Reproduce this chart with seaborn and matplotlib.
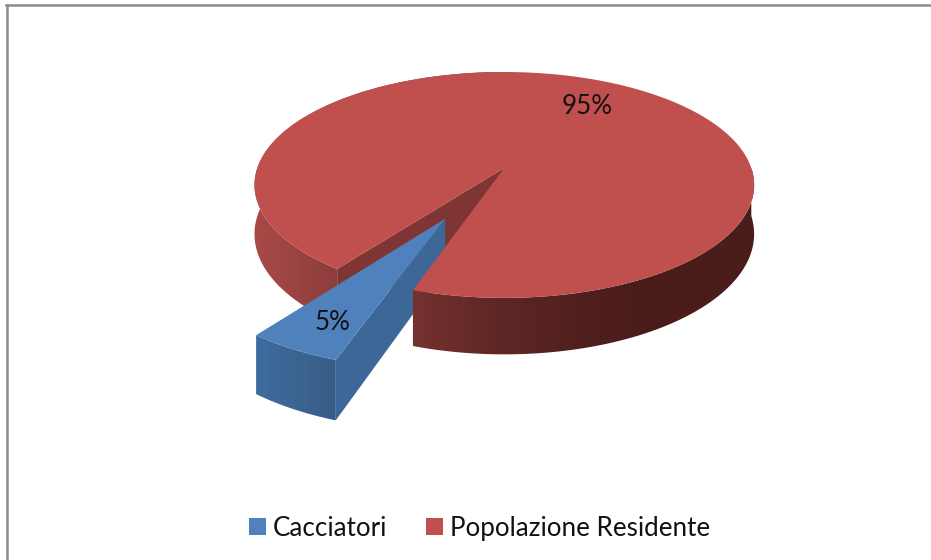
#!/usr/bin/env python3
"""Exploded 3D-look pie of hunters vs resident population."""

import numpy as np
import seaborn as sns
from matplotlib import pyplot as plt
from matplotlib.patches import Patch, Polygon

labels = ["Cacciatori", "Popolazione Residente"]
shares = [5, 95]
share_labels = ["5%", "95%"]

TOP_COLORS = ["#4f81bd", "#c0504d"]
CENTER = (504.3, 168.0)
RADIUS_X = 247.0
RADIUS_Y = 110.4
PERSPECTIVE = 0.15
DEPTH = 48.0
START_DEG = 18.5
EXPLODE = 0.485
FONT_SIZE = 18.7


def project(u, v, drop=0.0):
    """Map pie-plane coordinates to the page, nearer points drawn larger."""
    w = 1 - PERSPECTIVE * v
    return CENTER[0] + RADIUS_X * u / w, CENTER[1] + (RADIUS_Y * v + drop) / w


def rim(theta_deg, offset=(0.0, 0.0), drop=0.0):
    """Rim point(s) at an angle measured clockwise from the front of the pie."""
    theta = np.radians(theta_deg)
    return project(offset[0] - np.sin(theta), offset[1] + np.cos(theta), drop)


def draw_wall(ax, angles, offset, cmap, x_span, zorder):
    """Draw an outer wall as a horizontal gradient clipped to its outline."""
    top = list(zip(*rim(angles, offset)))
    low = list(zip(*rim(angles, offset, DEPTH)))
    outline = Polygon(top + low[::-1], transform=ax.transData)
    image = ax.imshow(np.linspace(0, 1, 256)[None, :], cmap=cmap, vmin=0, vmax=1, aspect="auto",
                      extent=(x_span[0], x_span[1], 560, 5), zorder=zorder)
    image.set_clip_path(outline)


sns.set_style("white")
plt.rcParams["font.family"] = ["Lato", "DejaVu Sans"]

fig = plt.figure(figsize=(9.31, 5.6), dpi=100)
ax = fig.add_axes([6.5 / 931, 0, 1 - 6.5 / 931, 1 - 5 / 560])
ax.set_xticks([])
ax.set_yticks([])
for side in ("right", "bottom"):
    ax.spines[side].set_visible(False)
for side in ("top", "left"):
    ax.spines[side].set_color("#8c8c8c")
    ax.spines[side].set_linewidth(1.8)

sweep = [s / sum(shares) * 360 for s in shares]
blue_start, blue_end = START_DEG, START_DEG + sweep[0]
red_start, red_end = blue_end, blue_end + sweep[1]
mid = np.radians((blue_start + blue_end) / 2)
offset = (-EXPLODE * np.sin(mid), EXPLODE * np.cos(mid))

red_wall = sns.blend_palette(["#aa4b48", "#7f3634", "#5c2624", "#4a1c1a", "#4a1c1a"], as_cmap=True)
blue_wall = sns.blend_palette(["#3f6c9f", "#395c87"], as_cmap=True)
red_span = (250, 760)

# Red wall left of the gap and the cut face seen through the gap
draw_wall(ax, np.linspace(red_start, 181, 80), (0, 0), red_wall, red_span, 1)
apex_top = project(0, 0)
apex_low = project(0, 0, DEPTH)
ax.add_patch(Polygon([apex_top, rim(red_start), rim(red_start, drop=DEPTH), apex_low],
                     color="#7e3533", lw=0, zorder=2))

# Exploded slice
slice_apex = project(*offset)
slice_low = project(*offset, DEPTH)
ax.add_patch(Polygon([slice_apex, rim(blue_start, offset), rim(blue_start, offset, DEPTH), slice_low],
                     color="#3d6796", lw=0, zorder=3))
slice_angles = np.linspace(blue_start, blue_end, 20)
draw_wall(ax, slice_angles, offset, blue_wall,
          (rim(blue_end, offset)[0], rim(blue_start, offset)[0]), 3)
ax.add_patch(Polygon([slice_apex] + list(zip(*rim(slice_angles, offset))),
                     color=TOP_COLORS[0], lw=0, zorder=4))

# Red wall right of the gap sits in front of the slice, then the red top
draw_wall(ax, np.linspace(-90, blue_start, 80), (0, 0), red_wall, red_span, 5)
red_angles = np.linspace(red_start, red_end, 240)
ax.add_patch(Polygon([apex_top] + list(zip(*rim(red_angles))),
                     color=TOP_COLORS[1], lw=0, zorder=6))

ax.set_xlim(6.5, 931)
ax.set_ylim(560, 5)

ax.text(333, 322, share_labels[0], ha="center", va="center", fontsize=FONT_SIZE, color="#111111", zorder=7)
ax.text(587, 106, share_labels[1], ha="center", va="center", fontsize=FONT_SIZE, color="#111111", zorder=7)

handles = [Patch(facecolor=c, edgecolor="none", label=t) for c, t in zip(TOP_COLORS, labels)]
ax.legend(handles=handles, ncol=2, frameon=False, loc="lower left",
          bbox_to_anchor=(0.2482, 0.0113), fontsize=FONT_SIZE, handlelength=0.65, handleheight=0.58,
          handletextpad=0.27, columnspacing=1.5, borderpad=0, labelcolor="#111111")

fig.savefig("out.png", dpi=100)
plt.close(fig)
